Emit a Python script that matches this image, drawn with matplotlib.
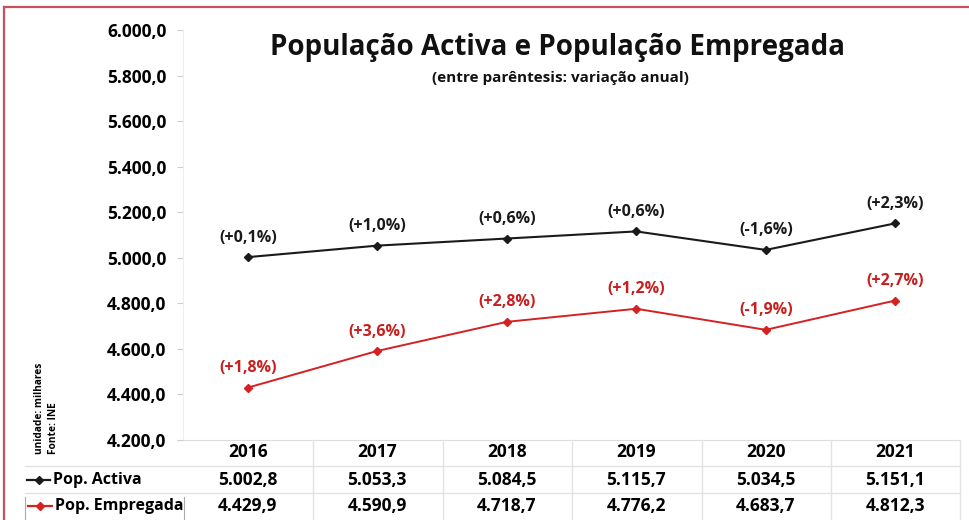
import matplotlib
matplotlib.use("Agg")
import matplotlib.pyplot as plt
import matplotlib.transforms as mtransforms
from matplotlib.lines import Line2D

plt.rcParams['font.family'] = ['Open Sans', 'DejaVu Sans']
plt.rcParams['font.weight'] = 'bold'

# data (milhares, fonte INE)
anos = ["2016", "2017", "2018", "2019", "2020", "2021"]
pop_activa = [5002.8, 5053.3, 5084.5, 5115.7, 5034.5, 5151.1]
pop_empregada = [4429.9, 4590.9, 4718.7, 4776.2, 4683.7, 4812.3]
var_activa = ["(+0,1%)", "(+1,0%)", "(+0,6%)", "(+0,6%)", "(-1,6%)", "(+2,3%)"]
var_empregada = ["(+1,8%)", "(+3,6%)", "(+2,8%)", "(+1,2%)", "(-1,9%)", "(+2,7%)"]
y_ticks = [4200, 4400, 4600, 4800, 5000, 5200, 5400, 5600, 5800, 6000]

W, H = 969, 520
fig = plt.figure(figsize=(W / 100, H / 100), dpi=100)
ax = fig.add_axes([183 / W, 1 - 440 / H, (960 - 183) / W, (440 - 30) / H])

preto = "#1a1a1a"
vermelho = "#d42121"

def pt(v):
    # formato portugues: 5.002,8
    s = f"{v:,.1f}"
    return s.replace(",", "X").replace(".", ",").replace("X", ".")

x = list(range(len(anos)))
ax.plot(x, pop_activa, color=preto, lw=1.5, marker="D", ms=4.5)
ax.plot(x, pop_empregada, color=vermelho, lw=1.4, marker="D", ms=4.5)

for i in x:
    ax.annotate(var_activa[i], (i, pop_activa[i]), xytext=(0, 14), textcoords="offset points",
                ha="center", va="center", fontsize=11.5, fontweight="bold", color=preto)
    ax.annotate(var_empregada[i], (i, pop_empregada[i]), xytext=(0, 14), textcoords="offset points",
                ha="center", va="center", fontsize=11.5, fontweight="bold", color="#c81e1e")

ax.set_xlim(-0.5, len(anos) - 0.5)
ax.set_ylim(4200, 6000)
ax.set_yticks(y_ticks)
ax.set_yticklabels([pt(v) for v in y_ticks], fontsize=12.5, fontweight="bold")
ax.set_xticks([])
ax.tick_params(axis="y", length=4, color="#cccccc", pad=8)
for s in ["top", "right"]:
    ax.spines[s].set_visible(False)
ax.spines["left"].set_color("#eeeeee")
ax.spines["bottom"].set_color("#dddddd")

# titulo
fig.text(558 / W, 1 - 47 / H, "População Activa e População Empregada",
         ha="center", va="center", fontsize=20, fontweight="bold", color="#111111")
fig.text(560 / W, 1 - 78 / H, "(entre parêntesis: variação anual)",
         ha="center", va="center", fontsize=11, fontweight="bold", color="#111111")

# tabela de dados
tr = mtransforms.blended_transform_factory(ax.transData, fig.transFigure)
for i in x:
    ax.text(i, 1 - 452 / H, anos[i], transform=tr, ha="center", va="center", fontsize=12.5, fontweight="bold")
    ax.text(i, 1 - 480 / H, pt(pop_activa[i]), transform=tr, ha="center", va="center", fontsize=12.5, fontweight="bold")
    ax.text(i, 1 - 506 / H, pt(pop_empregada[i]), transform=tr, ha="center", va="center", fontsize=12.5, fontweight="bold")

grelha = "#e2e2e2"
fig.add_artist(Line2D([25 / W, 960 / W], [1 - 466 / H, 1 - 466 / H], color=grelha, lw=1))
fig.add_artist(Line2D([25 / W, 960 / W], [1 - 493 / H, 1 - 493 / H], color=grelha, lw=1))
for b in [313, 443, 572, 702, 831, 960]:
    fig.add_artist(Line2D([b / W, b / W], [0, 1 - 440 / H], color=grelha, lw=1))
fig.add_artist(Line2D([25 / W, 25 / W], [0, 1 - 497 / H], color="#aaaaaa", lw=0.8))
fig.add_artist(Line2D([184 / W, 184 / W], [0, 1 - 497 / H], color="#aaaaaa", lw=0.8))

# legenda da tabela
fig.add_artist(Line2D([28 / W, 40 / W, 52 / W], [1 - 506 / H] * 3, color=vermelho, lw=1.6,
                      marker="D", ms=4.5, markevery=[1]))
fig.add_artist(Line2D([27 / W, 38.5 / W, 50 / W], [1 - 480 / H] * 3, color=preto, lw=1.6,
                      marker="D", ms=4.5, markevery=[1]))
fig.text(53 / W, 1 - 480 / H, "Pop. Activa", ha="left", va="center", fontsize=11.5, fontweight="bold")
fig.text(55 / W, 1 - 506 / H, "Pop. Empregada", ha="left", va="center", fontsize=11.5, fontweight="bold")

# unidade / fonte
fig.text(40 / W, 1 - 454 / H, "unidade: milhares", rotation=90, ha="center", va="bottom",
         fontsize=7.3, fontweight="bold")
fig.text(53 / W, 1 - 454 / H, "Fonte: INE", rotation=90, ha="center", va="bottom",
         fontsize=7.3, fontweight="bold")

# moldura
moldura = "#c8505a"
fig.add_artist(Line2D([4 / W, 4 / W], [0, 1 - 7 / H], color=moldura, lw=1.6))
fig.add_artist(Line2D([4 / W, 1], [1 - 7 / H, 1 - 7 / H], color=moldura, lw=1.6))

fig.savefig("out.png", dpi=100)
